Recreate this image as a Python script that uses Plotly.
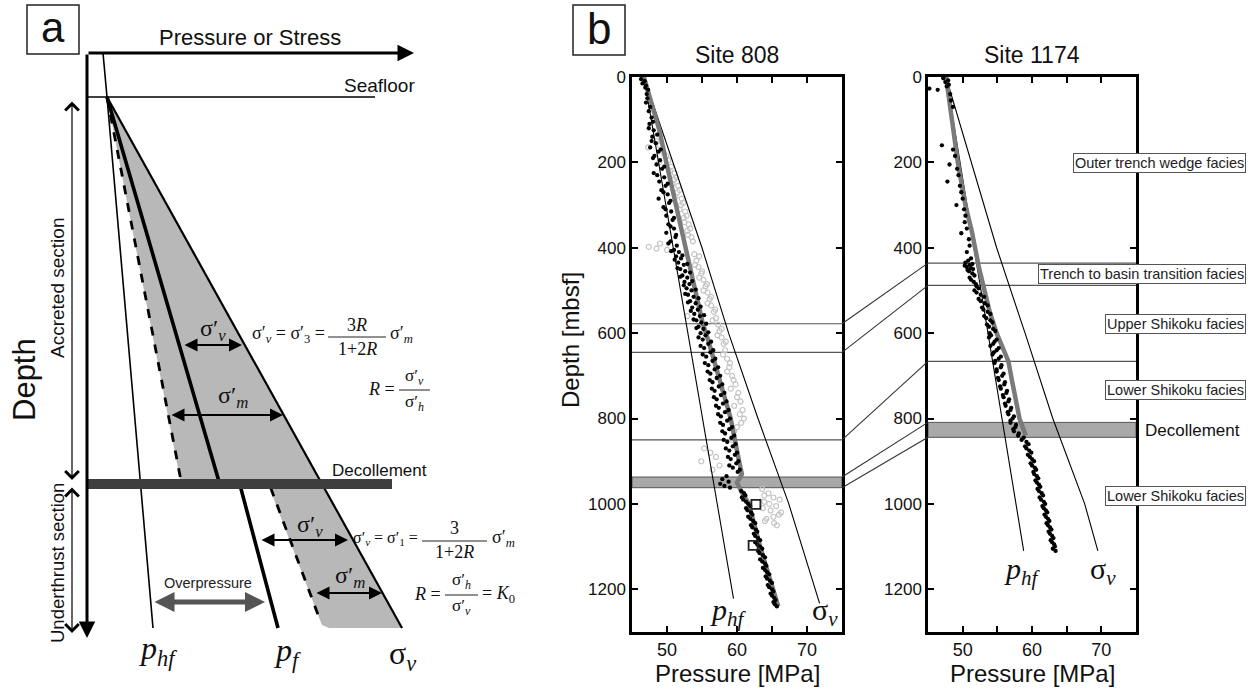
import plotly.graph_objects as go

W, H = 1253, 689
SANS = "Liberation Sans, Arial, sans-serif"
SERIF = "Liberation Serif, Times New Roman, serif"

# ---------------- Site 808 profiles (depth mbsf, pressure MPa) ----------------
S808_PHF_D = [0, 400, 800, 1222]
S808_PHF_P = [46.7, 50.9, 55.1, 59.5]
S808_SV_D = [0, 200, 400, 600, 800, 1000, 1233]
S808_SV_P = [46.7, 50.8, 55.0, 58.8, 63.0, 67.4, 71.8]
S808_PF_D = [0, 124, 200, 400, 577, 617, 700, 800, 900, 930, 950, 970, 1000, 1100, 1240]
S808_PF_P = [46.7, 48.9, 49.9, 52.7, 55.1, 55.9, 57.4, 59.1, 60.3, 60.7, 60.0, 60.6, 61.7, 63.3, 65.9]

S808_DOT_D = [5, 10, 15, 20, 25, 30, 40, 50, 60, 70, 80, 95, 110, 125, 140, 155, 165, 175, 185, 195,
              205, 215, 225, 235, 245, 255, 265, 275, 285, 295, 305, 315, 325, 335, 345, 355, 365, 375, 385, 395,
              405, 410, 420, 425, 435, 440, 450, 455, 465, 470, 480, 485, 495, 500, 510, 515, 525, 530, 540, 545,
              555, 560, 570, 575, 585, 590, 600, 605, 615, 625, 635, 645, 655, 665, 675, 685, 695, 705, 715, 725,
              735, 745, 755, 765, 775, 785, 795, 805, 815, 825, 835, 845, 855, 865, 875, 885, 895, 905, 915, 925,
              935, 942, 948, 953, 958, 962, 970, 980, 990, 1000, 1010, 1020, 1030, 1040, 1050, 1060, 1070, 1080,
              1090, 1100, 1110, 1120, 1130, 1140, 1150, 1160, 1170, 1180, 1190, 1200, 1210, 1220, 1230, 1240,
              105, 120, 135, 150, 170, 190, 210, 230, 250, 270, 290, 310, 330, 350, 370, 390,
              408, 418, 428, 438, 448, 458, 468, 478, 488, 498, 508, 518, 528, 538, 548, 558, 568, 578, 588, 598,
              610, 620, 630, 640, 650, 660, 670, 680, 690, 700, 710, 720, 730, 740, 750, 760, 770, 780, 790, 800,
              810, 820, 830, 840, 850, 860, 870, 880, 890, 900, 910, 920,
              975, 985, 995, 1005, 1015, 1025, 1035, 1045, 1055, 1065, 1075, 1085, 1095, 1105, 1115, 1125, 1135,
              1145, 1155, 1165, 1175, 1185, 1195, 1205, 1215, 1225, 1235]
S808_DOT_P = [46.3, 46.8, 46.5, 47.0, 46.9, 47.3, 47.1, 47.2, 47.0, 47.6, 47.4, 47.8, 47.5, 48.1, 47.9, 48.4, 47.6, 48.8, 48.2, 49.0,
              48.5, 49.3, 48.1, 49.6, 48.9, 49.8, 49.2, 50.1, 48.8, 50.3, 49.5, 50.6, 49.9, 50.8, 50.2, 51.0, 49.9, 51.2, 50.5, 51.4,
              51.0, 51.7, 51.3, 52.0, 51.6, 52.4, 51.9, 52.6, 52.2, 52.9, 52.5, 53.2, 52.8, 53.5, 53.0, 53.8, 53.3, 54.1, 53.6, 54.4,
              53.9, 54.7, 54.2, 54.9, 54.5, 55.2, 54.8, 55.5, 55.1, 55.9, 55.3, 56.2, 55.6, 56.5, 55.9, 56.8, 56.2, 57.1, 56.5, 57.4,
              56.8, 57.7, 57.1, 58.0, 57.4, 58.3, 57.7, 58.6, 58.0, 58.9, 58.3, 59.2, 58.6, 59.4, 58.9, 59.7, 59.1, 59.9, 59.4, 60.1,
              58.5, 57.9, 58.8, 57.6, 58.2, 59.0, 60.6, 61.2, 60.9, 61.6, 61.3, 62.0, 61.6, 62.3, 62.0, 62.7, 62.4, 63.0,
              62.6, 63.3, 63.0, 63.7, 63.3, 64.0, 63.7, 64.3, 64.1, 64.7, 64.4, 65.0, 64.8, 65.3, 65.2, 65.7,
              48.0, 47.4, 48.6, 47.8, 49.1, 48.0, 49.6, 48.6, 50.1, 49.5, 50.5, 49.8, 51.0, 50.5, 51.3, 50.2,
              50.6, 52.2, 51.1, 52.9, 51.5, 53.3, 51.9, 53.6, 52.4, 54.1, 52.6, 54.5, 53.0, 54.8, 53.4, 55.3, 53.8, 55.6, 54.2, 55.9,
              54.5, 56.3, 54.8, 56.6, 55.1, 56.9, 55.4, 57.3, 55.8, 57.6, 56.1, 57.9, 56.4, 58.2, 56.7, 58.5, 57.0, 58.8, 57.3, 59.0,
              57.6, 59.3, 57.9, 59.6, 58.1, 59.8, 58.4, 60.0, 58.7, 60.2, 58.9, 60.4,
              61.0, 60.7, 61.3, 61.9, 61.5, 62.2, 61.9, 62.6, 62.2, 62.9, 62.6, 63.3, 62.9, 63.6, 63.2, 64.0, 63.6,
              64.2, 64.0, 64.6, 64.3, 65.0, 64.6, 65.2, 65.0, 65.5, 65.4]

S808_CIRC_D = [150, 165, 180, 195, 210, 225, 240, 255, 270, 285, 300, 315, 330, 345, 360, 375, 390, 398, 402, 405,
               415, 430, 445, 460, 475, 490, 505, 520, 535, 550, 560, 565, 580, 595, 610, 625, 640, 660, 680, 700,
               720, 740, 760, 780, 800, 820, 850, 870, 880, 890, 900, 910, 920, 965, 975, 985, 995, 1005, 1015, 1025,
               1035, 1045,
               160, 185, 200, 220, 235, 250, 265, 280, 295, 310, 325, 340, 355, 370, 385, 420, 440, 455, 470, 485,
               500, 515, 530, 545, 570, 590, 605, 620, 650, 670, 690, 710, 730, 750, 770, 790, 810, 830, 980, 1000,
               1010, 1030, 1040, 1050, 1020, 990]
S808_CIRC_P = [48.5, 47.3, 49.6, 50.2, 50.6, 51.1, 51.0, 51.6, 51.5, 52.1, 52.0, 52.6, 52.4, 53.1, 52.9, 53.5, 49.0, 47.4, 48.5, 50.0,
               53.9, 54.2, 54.5, 54.9, 55.2, 55.5, 55.8, 56.1, 56.3, 56.7, 52.9, 57.0, 57.3, 57.5, 57.8, 58.1, 58.3, 58.6, 58.9, 59.3,
               59.8, 60.2, 60.5, 60.8, 61.0, 60.0, 59.2, 55.3, 56.2, 57.0, 54.9, 57.5, 56.5, 63.6, 64.5, 65.2, 63.9, 65.6, 64.8, 66.0,
               64.2, 65.3,
               49.0, 49.9, 48.9, 50.4, 51.3, 50.8, 51.8, 51.2, 52.3, 51.8, 52.8, 52.5, 53.3, 53.0, 53.7, 54.6, 54.0, 55.0, 54.6, 55.7,
               55.2, 56.3, 55.8, 56.9, 56.5, 57.8, 57.2, 58.4, 58.0, 59.0, 58.6, 59.5, 59.1, 60.0, 59.6, 60.4, 60.6, 59.6, 63.9, 64.6,
               63.7, 65.2, 64.0, 65.7, 66.3, 66.1]

S808_SQ_D = [1001, 1097]
S808_SQ_P = [62.7, 62.3]

S808_BOUNDS = [578, 645, 850]
S808_DECOL = [937, 962]

# ---------------- Site 1174 profiles ----------------
S1174_PHF_D = [0, 400, 800, 1110]
S1174_PHF_P = [47.6, 51.6, 55.7, 58.8]
S1174_SV_D = [0, 200, 400, 600, 800, 1000, 1110]
S1174_SV_P = [47.6, 51.3, 54.9, 59.0, 63.0, 67.6, 69.5]
S1174_PF_D = [0, 100, 200, 300, 360, 450, 550, 600, 666, 710, 800, 840]
S1174_PF_P = [47.6, 48.5, 49.3, 50.4, 51.3, 52.4, 53.9, 54.9, 56.6, 57.1, 58.2, 59.1]

S1174_DOT_D = [3, 8, 12, 18, 22, 27, 30, 40, 55, 70, 160, 170, 185, 205, 215, 230, 245, 255, 270, 285,
               300, 310, 325, 340, 355, 366, 380, 395, 410, 425, 435, 440, 445, 450, 455, 465, 475, 485, 495, 505,
               515, 525, 535, 545, 555, 565, 575, 585, 595, 605, 615, 625, 635, 645, 655, 665, 675, 685, 695, 705,
               715, 725, 735, 745, 755, 765, 775, 785, 795, 805, 815, 825, 835, 845, 855, 865, 875, 885, 895, 905,
               915, 925, 935, 945, 955, 965, 975, 985, 995, 1005, 1015, 1025, 1035, 1045, 1055, 1065, 1075, 1085,
               1095, 1105, 1110,
               850, 860, 870, 880, 890, 900, 910, 920, 930, 940, 950, 960, 970, 980, 990, 1000, 1010, 1020, 1030,
               1040, 1050, 1060, 1070, 1080, 1090, 1100,
               610, 620, 630, 640, 650, 660, 670, 680, 690, 700, 710, 720, 730, 740, 750, 760, 770, 780, 790, 800,
               810, 820, 830, 840,
               430, 438, 442, 448, 452, 460, 470, 480, 490, 500, 510, 520, 530, 540, 550, 560, 570, 580, 590, 600]
S1174_DOT_P = [47.2, 47.9, 47.5, 48.0, 47.7, 45.2, 46.4, 48.2, 48.3, 48.6, 47.0, 48.6, 48.9, 48.1, 49.2, 49.4, 47.8, 49.6, 49.8, 50.0,
               49.1, 50.2, 50.4, 50.3, 50.6, 49.8, 50.9, 51.0, 50.6, 51.2, 50.4, 51.0, 50.6, 51.5, 50.9, 51.7, 51.2, 51.9, 52.3, 52.0,
               53.1, 52.6, 53.6, 53.0, 54.0, 53.4, 54.3, 53.8, 54.7, 54.1, 54.9, 54.4, 55.2, 54.5, 55.5, 54.7, 55.6, 54.9, 55.9, 55.1,
               56.1, 55.4, 56.4, 55.8, 56.7, 56.1, 57.0, 56.5, 57.4, 56.9, 57.7, 57.3, 58.1, 58.8, 59.2, 59.0, 59.6, 59.4, 60.0, 59.8,
               60.4, 60.2, 60.7, 60.5, 61.0, 60.8, 61.4, 61.1, 61.7, 61.5, 62.0, 61.8, 62.3, 62.1, 62.6, 62.4, 62.9, 62.7,
               63.2, 63.0, 63.4,
               58.5, 59.5, 59.2, 59.9, 59.7, 60.3, 60.0, 60.6, 60.3, 60.9, 60.7, 61.2, 61.0, 61.6, 61.3, 61.9, 61.7, 62.2, 62.0,
               62.5, 62.3, 62.8, 62.6, 63.1, 62.9, 63.3,
               53.8, 54.6, 54.0, 54.9, 54.3, 55.2, 54.6, 55.5, 54.9, 55.7, 55.2, 56.0, 55.5, 56.3, 55.9, 56.6, 56.2, 56.9, 56.6, 57.2,
               56.9, 57.6, 57.4, 58.0,
               50.8, 51.4, 50.3, 51.2, 50.7, 51.4, 51.0, 51.6, 52.0, 51.7, 52.6, 52.3, 53.2, 52.8, 53.6, 53.1, 54.0, 53.5, 54.4, 53.9]

S1174_BOUNDS = [436, 488, 666]
S1174_DECOL = [809, 844]

# correlation of unit boundaries between the two sites
CORR_808 = [578, 645, 850, 937, 962]
CORR_1174 = [436, 488, 666, 809, 844]

FACIES_TEXT = ["Outer trench wedge facies", "Trench to basin transition facies", "Upper Shikoku facies",
               "Lower Shikoku facies", "Lower Shikoku facies"]
FACIES_DEPTH = [202, 462, 579, 734, 982]

X_TICKS = [50, 55, 60, 65, 70]
X_TICKTEXT = ["50", "", "60", "", "70"]
Y_TICKS = [0, 200, 400, 600, 800, 1000, 1200]

# ---------------- Schematic (panel a), schematic units ----------------
SEAFLOOR_Z = 97
WATER_LINE = ([103, 107], [53, 97])
PHF_LINE = ([107, 153], [97, 628])
SV_LINE = ([107, 402], [97, 628])
PF_LINE = ([107, 220, 240, 278], [97, 485, 485, 628])
DASH_LINE = ([107, 180, 182, 270, 320], [97, 479, 486, 486, 620])
FILL_UPPER = ([107, 319, 180, 107], [97, 479, 479, 97])
FILL_LOWER = ([270, 325, 402, 329, 322, 320, 270], [489, 489, 628, 628, 625, 620, 489])
DECOL_Z = (479, 489)
DECOL_X = (87, 392)

fig = go.Figure()

XD808 = [632 / W, 842 / W]
XD1174 = [928 / W, 1136 / W]
YD = [1 - 632 / H, 1 - 77 / H]

# ---- Site panels ----
for sfx, pdata in [("", dict(phf=(S808_PHF_D, S808_PHF_P), sv=(S808_SV_D, S808_SV_P), pf=(S808_PF_D, S808_PF_P),
                              dot=(S808_DOT_D, S808_DOT_P))),
                   ("2", dict(phf=(S1174_PHF_D, S1174_PHF_P), sv=(S1174_SV_D, S1174_SV_P), pf=(S1174_PF_D, S1174_PF_P),
                              dot=(S1174_DOT_D, S1174_DOT_P)))]:
    xa, ya = "x" + sfx, "y" + sfx
    if sfx == "":
        fig.add_trace(go.Scatter(x=S808_CIRC_P, y=S808_CIRC_D, mode="markers", xaxis=xa, yaxis=ya,
                                 marker=dict(symbol="circle-open", size=5, color="#c4c4c4", line=dict(width=1.2))))
    fig.add_trace(go.Scatter(x=pdata["phf"][1], y=pdata["phf"][0], mode="lines", xaxis=xa, yaxis=ya,
                             line=dict(color="black", width=1.1)))
    fig.add_trace(go.Scatter(x=pdata["sv"][1], y=pdata["sv"][0], mode="lines", xaxis=xa, yaxis=ya,
                             line=dict(color="black", width=1.1)))
    fig.add_trace(go.Scatter(x=pdata["pf"][1], y=pdata["pf"][0], mode="lines", xaxis=xa, yaxis=ya,
                             line=dict(color="#7a7a7a", width=4.5)))
    fig.add_trace(go.Scatter(x=pdata["dot"][1], y=pdata["dot"][0], mode="markers", xaxis=xa, yaxis=ya,
                             marker=dict(size=4.3, color="black")))
    if sfx == "":
        fig.add_trace(go.Scatter(x=S808_SQ_P, y=S808_SQ_D, mode="markers", xaxis=xa, yaxis=ya,
                                 marker=dict(symbol="square-open", size=9, color="#222", line=dict(width=1.8))))

# ---- Unit boundaries and decollement bands ----
for d in S808_BOUNDS:
    fig.add_shape(type="line", xref="x domain", yref="y", x0=0, x1=1, y0=d, y1=d,
                  line=dict(color="#555", width=1.2), layer="below")
for d in S1174_BOUNDS:
    fig.add_shape(type="line", xref="x2 domain", yref="y2", x0=0, x1=1, y0=d, y1=d,
                  line=dict(color="#555", width=1.2), layer="below")
fig.add_shape(type="rect", xref="x domain", yref="y", x0=0, x1=1, y0=S808_DECOL[0], y1=S808_DECOL[1],
              fillcolor="#a9a9a9", line=dict(color="#555", width=1), layer="below")
fig.add_shape(type="rect", xref="x2 domain", yref="y2", x0=0, x1=1, y0=S1174_DECOL[0], y1=S1174_DECOL[1],
              fillcolor="#a9a9a9", line=dict(color="#555", width=1), layer="below")
for d0, d1 in zip(CORR_808, CORR_1174):
    fig.add_shape(type="line", xref="paper", yref="y", x0=XD808[1], x1=XD1174[0], y0=d0, y1=d1,
                  line=dict(color="#333", width=1.1))

# ---- Schematic panel (a) ----
def sch(x, y, **kw):
    fig.add_trace(go.Scatter(x=x, y=y, xaxis="x3", yaxis="y3", **kw))

sch(FILL_UPPER[0], FILL_UPPER[1], mode="lines", fill="toself", fillcolor="#b8b8b8", line=dict(width=0))
sch(FILL_LOWER[0], FILL_LOWER[1], mode="lines", fill="toself", fillcolor="#b8b8b8", line=dict(width=0))
fig.add_shape(type="rect", xref="x3", yref="y3", x0=DECOL_X[0], x1=DECOL_X[1], y0=DECOL_Z[0], y1=DECOL_Z[1],
              fillcolor="#3e3e3e", line=dict(width=0))
fig.add_shape(type="line", xref="x3", yref="y3", x0=87, x1=375, y0=SEAFLOOR_Z, y1=SEAFLOOR_Z,
              line=dict(color="black", width=1.6))
sch(*WATER_LINE, mode="lines", line=dict(color="black", width=1.6))
sch(*PHF_LINE, mode="lines", line=dict(color="black", width=1.6))
sch(*SV_LINE, mode="lines", line=dict(color="black", width=2.2))
sch(*DASH_LINE, mode="lines", line=dict(color="black", width=2.8, dash="dash"))
sch(*PF_LINE, mode="lines", line=dict(color="black", width=3.6))


def arrow(x0, y0, x1, y1, width, size, head, color="black", both=False):
    fig.add_annotation(x=x1, y=y1, ax=x0, ay=y0, xref="x3", yref="y3", axref="x3", ayref="y3",
                       text="", showarrow=True, arrowhead=head, startarrowhead=head, arrowsize=size,
                       startarrowsize=size, arrowwidth=width, arrowcolor=color, standoff=0, startstandoff=0,
                       arrowside="end+start" if both else "end")


# coordinate axes
arrow(87, 53, 414, 53, 3, 1.1, 2)
arrow(87, 53, 87, 638, 3, 1.1, 2)
# section extents
arrow(72, 100, 72, 480, 1.2, 2.2, 4, both=True)
arrow(72, 486, 72, 633, 1.2, 2.2, 4, both=True)
# effective stress spans
arrow(183, 345, 242, 345, 2, 1.3, 2, both=True)
arrow(170, 415, 283, 415, 2, 1.3, 2, both=True)
arrow(260, 540, 348, 540, 2, 1.3, 2, both=True)
arrow(315, 593, 382, 593, 2, 1.3, 2, both=True)
arrow(153, 602, 265, 602, 5, 0.8, 2, color="#555", both=True)


def txt(x, y, s, size, family=SANS, color="#111", ref="3", **kw):
    fig.add_annotation(x=x, y=y, xref="x" + ref, yref="y" + ref, text=s, showarrow=False,
                       font=dict(size=size, family=family, color=color), **kw)


def ptxt(x, y, s, size, family=SANS, color="#111", **kw):
    kw.setdefault("xanchor", "center")
    kw.setdefault("yanchor", "middle")
    fig.add_annotation(x=x / W, y=1 - y / H, xref="paper", yref="paper", text=s, showarrow=False,
                       font=dict(size=size, family=family, color=color), **kw)


txt(250, 37, "Pressure or Stress", 22)
txt(417, 85, "Seafloor", 19, xanchor="right")
txt(24, 380, "Depth", 31, textangle=-90)
txt(57, 288, "Accreted section", 19, textangle=-90)
txt(57, 563, "Underthrust section", 18.5, textangle=-90)
txt(330, 470, "Decollement", 17, xanchor="left")
txt(208, 583, "Overpressure", 14.5, color="#222")

SV_P = "σ′<sub><i>v</i></sub>"
SM_P = "σ′<sub><i>m</i></sub>"
SH_P = "σ′<sub><i>h</i></sub>"
txt(213, 330, SV_P, 24, SERIF)
txt(233, 397, SM_P, 24, SERIF)
txt(310, 526, SV_P, 24, SERIF)
txt(350, 577, SM_P, 24, SERIF)

# formulas
txt(327, 334, SV_P + " = σ′<sub>3</sub> =", 18, SERIF, xanchor="right")
fig.add_shape(type="line", xref="x3", yref="y3", x0=328, x1=386, y0=337, y1=337, line=dict(color="#222", width=1))
txt(357, 325, "3<i>R</i>", 18, SERIF)
txt(357, 349, "1+2<i>R</i>", 18, SERIF)
txt(388, 334, SM_P, 18, SERIF, xanchor="left")
txt(397, 389, "<i>R</i> =", 18, SERIF, xanchor="right")
fig.add_shape(type="line", xref="x3", yref="y3", x0=399, x1=430, y0=390, y1=390, line=dict(color="#222", width=1))
txt(414, 377, SV_P, 17, SERIF)
txt(414, 403, SH_P, 17, SERIF)

txt(420, 538, SV_P + " = σ′<sub>1</sub> =", 16, SERIF, xanchor="right")
fig.add_shape(type="line", xref="x3", yref="y3", x0=422, x1=487, y0=541, y1=541, line=dict(color="#222", width=1))
txt(454, 528, "3", 18, SERIF)
txt(454, 552, "1+2<i>R</i>", 18, SERIF)
txt(490, 538, SM_P, 18, SERIF, xanchor="left")
txt(443, 594, "<i>R</i> =", 18, SERIF, xanchor="right")
fig.add_shape(type="line", xref="x3", yref="y3", x0=445, x1=478, y0=595, y1=595, line=dict(color="#222", width=1))
txt(461, 581, SH_P, 17, SERIF)
txt(461, 607, SV_P, 17, SERIF)
txt(480, 594, "= <i>K</i><sub>0</sub>", 18, SERIF, xanchor="left")

PHF_LBL = "<i>p</i><sub><i>hf</i></sub>"
PF_LBL = "<i>p</i><sub><i>f</i></sub>"
SV_LBL = "σ<sub><i>v</i></sub>"
txt(158, 650, PHF_LBL, 32, SERIF)
txt(287, 652, PF_LBL, 32, SERIF)
txt(402, 655, SV_LBL, 32, SERIF)

# panel letters
fig.add_shape(type="rect", xref="x3", yref="y3", x0=27, x1=79, y0=5, y1=54, line=dict(color="#222", width=1.5))
txt(53, 27, "a", 42)
fig.add_shape(type="rect", xref="paper", yref="paper", x0=573 / W, x1=625 / W, y0=1 - 55 / H, y1=1 - 5 / H,
              line=dict(color="#222", width=1.5))
ptxt(599, 28, "b", 44)

# ---- Site panel labels ----
ptxt(737, 55, "Site 808", 23)
ptxt(1032, 55, "Site 1174", 23)
ptxt(737, 673, "Pressure [MPa]", 24)
ptxt(1032, 673, "Pressure [MPa]", 24)
ptxt(570, 340, "Depth [mbsf]", 24, textangle=-90)

fig.add_annotation(x=58.8, y=1252, xref="x", yref="y", text=PHF_LBL, showarrow=False,
                   font=dict(size=30, family=SERIF, color="#111"))
fig.add_annotation(x=72.6, y=1252, xref="x", yref="y", text=SV_LBL, showarrow=False,
                   font=dict(size=30, family=SERIF, color="#111"))
fig.add_annotation(x=58.7, y=1158, xref="x2", yref="y2", text=PHF_LBL, showarrow=False,
                   font=dict(size=30, family=SERIF, color="#111"))
fig.add_annotation(x=70.3, y=1158, xref="x2", yref="y2", text=SV_LBL, showarrow=False,
                   font=dict(size=30, family=SERIF, color="#111"))

for t, d in zip(FACIES_TEXT, FACIES_DEPTH):
    fig.add_annotation(x=1246 / W, y=d, xref="paper", yref="y2", xanchor="right", yanchor="middle", text=t,
                       showarrow=False, font=dict(size=14.5, family=SANS, color="#222"), bgcolor="white",
                       bordercolor="#555", borderwidth=1, borderpad=1)
fig.add_annotation(x=1192 / W, y=829, xref="paper", yref="y2", xanchor="center", yanchor="middle",
                   text="Decollement", showarrow=False, font=dict(size=17, family=SANS, color="#111"))

axis_common = dict(range=[45, 75], tickvals=X_TICKS, ticktext=X_TICKTEXT, ticks="inside", ticklen=6,
                   tickwidth=1.5, tickcolor="black", showline=True, linewidth=2.5, linecolor="black",
                   mirror="ticks", showgrid=False, zeroline=False,
                   tickfont=dict(size=18, family=SANS, color="#111"))
yaxis_common = dict(range=[1300, 0], tickvals=Y_TICKS, ticks="inside", ticklen=6, tickwidth=1.5,
                    tickcolor="black", showline=True, linewidth=2.5, linecolor="black", mirror="ticks",
                    showgrid=False, zeroline=False, tickfont=dict(size=17, family=SANS, color="#111"))

fig.update_layout(
    width=W, height=H, margin=dict(l=0, r=0, t=0, b=0, pad=0, autoexpand=False),
    paper_bgcolor="white", plot_bgcolor="rgba(0,0,0,0)", showlegend=False,
    xaxis=dict(domain=XD808, anchor="y", **axis_common),
    yaxis=dict(domain=YD, anchor="x", **yaxis_common),
    xaxis2=dict(domain=XD1174, anchor="y2", **axis_common),
    yaxis2=dict(domain=YD, anchor="x2", **yaxis_common),
    xaxis3=dict(domain=[0, 540 / W], range=[0, 540], visible=False, anchor="y3"),
    yaxis3=dict(domain=[0, 1], range=[H, 0], visible=False, anchor="x3"),
    hovermode=False,
)

fig.write_html("out.html")
